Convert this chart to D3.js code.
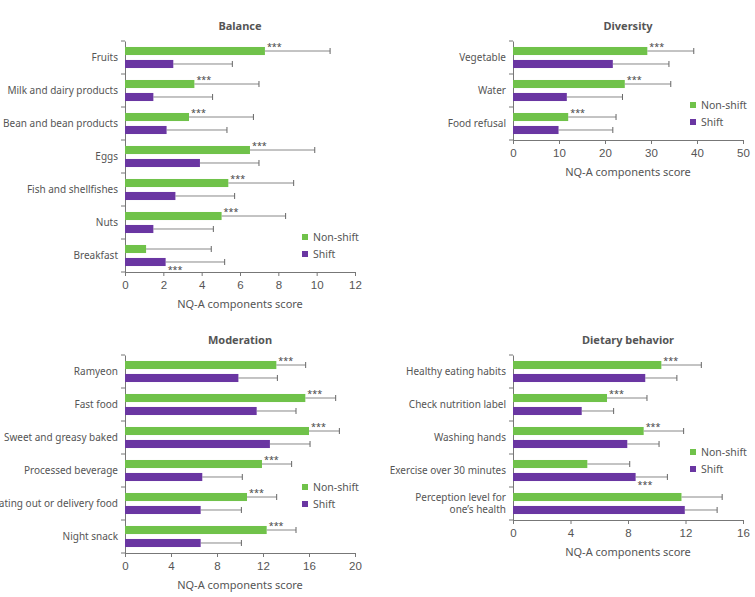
<!DOCTYPE html>
<html>
<head>
<meta charset="utf-8">
<script src="https://cdn.jsdelivr.net/npm/d3@7"></script>
<style>
  body { margin: 0; background: #fff; }
  text { font-family: "Noto Sans", "Open Sans", sans-serif; fill: #555; }
  .tick text { font-family: "Liberation Sans", Arial, sans-serif; font-size: 11.5px; fill: #555; }
  .domain, .tick line { stroke: #777; }
</style>
</head>
<body>
<div id="chart"></div>
<script>
// --- Data ---
const seriesNames = ["Non-shift", "Shift"];

const balanceCats = ["Fruits", "Milk and dairy products", "Bean and bean products", "Eggs", "Fish and shellfishes", "Nuts", "Breakfast"];
const balanceNonShift = [7.30, 3.62, 3.34, 6.52, 5.39, 5.04, 1.10];
const balanceNonShiftErr = [10.70, 6.99, 6.70, 9.90, 8.80, 8.38, 4.50];
const balanceShift = [2.52, 1.48, 2.17, 3.91, 2.63, 1.48, 2.12];
const balanceShiftErr = [5.60, 4.57, 5.32, 6.99, 5.72, 4.61, 5.20];
const balanceSig = ["Non-shift", "Non-shift", "Non-shift", "Non-shift", "Non-shift", "Non-shift", "Shift"];

const diversityCats = ["Vegetable", "Water", "Food refusal"];
const diversityNonShift = [29.2, 24.3, 12.0];
const diversityNonShiftErr = [39.3, 34.3, 22.4];
const diversityShift = [21.7, 11.7, 9.9];
const diversityShiftErr = [33.9, 23.8, 21.7];
const diversitySig = ["Non-shift", "Non-shift", "Non-shift"];

const moderationCats = ["Ramyeon", "Fast food", "Sweet and greasy baked", "Processed beverage", "Eating out or delivery food", "Night snack"];
const moderationNonShift = [13.16, 15.68, 16.0, 11.91, 10.61, 12.32];
const moderationNonShiftErr = [15.71, 18.32, 18.64, 14.49, 13.19, 14.87];
const moderationShift = [9.86, 11.45, 12.6, 6.72, 6.58, 6.58];
const moderationShiftErr = [13.25, 14.87, 16.09, 10.2, 10.12, 10.12];
const moderationSig = ["Non-shift", "Non-shift", "Non-shift", "Non-shift", "Non-shift", "Non-shift"];

const behaviorCats = ["Healthy eating habits", "Check nutrition label", "Washing hands", "Exercise over 30 minutes", "Perception level for\none\u2019s health"];
const behaviorNonShift = [10.32, 6.54, 9.09, 5.17, 11.72];
const behaviorNonShiftErr = [13.1, 9.32, 11.87, 8.12, 14.55];
const behaviorShift = [9.2, 4.78, 7.95, 8.53, 11.95];
const behaviorShiftErr = [11.4, 7.0, 10.16, 10.74, 14.2];
const behaviorSig = ["Non-shift", "Non-shift", "Non-shift", "Shift", null];

const balanceTicks = [0, 2, 4, 6, 8, 10, 12];
const diversityTicks = [0, 10, 20, 30, 40, 50];
const moderationTicks = [0, 4, 8, 12, 16, 20];
const behaviorTicks = [0, 4, 8, 12, 16];

const colors = { "Non-shift": "#70c24a", "Shift": "#6a36a2" };
const groupH = 33;

function rows(cats, ns, nsErr, sh, shErr, sig) {
  return cats.map((c, i) => ({
    cat: c,
    sig: sig[i],
    bars: [
      { key: "Non-shift", value: ns[i], err: nsErr[i] },
      { key: "Shift", value: sh[i], err: shErr[i] }
    ]
  }));
}

const panels = [
  { title: "Balance", data: rows(balanceCats, balanceNonShift, balanceNonShiftErr, balanceShift, balanceShiftErr, balanceSig),
    ticks: balanceTicks, x0: 125, y0: 41, legY: 237, showLabel: true },
  { title: "Diversity", data: rows(diversityCats, diversityNonShift, diversityNonShiftErr, diversityShift, diversityShiftErr, diversitySig),
    ticks: diversityTicks, x0: 513, y0: 41, legY: 105, showLabel: true },
  { title: "Moderation", data: rows(moderationCats, moderationNonShift, moderationNonShiftErr, moderationShift, moderationShiftErr, moderationSig),
    ticks: moderationTicks, x0: 125, y0: 355, legY: 487, showLabel: true },
  { title: "Dietary behavior", data: rows(behaviorCats, behaviorNonShift, behaviorNonShiftErr, behaviorShift, behaviorShiftErr, behaviorSig),
    ticks: behaviorTicks, x0: 513, y0: 355, legY: 452, showLabel: true }
];

const svg = d3.select("#chart").append("svg")
  .attr("width", 755)
  .attr("height", 597);

const innerW = 230;

panels.forEach(p => {
  const innerH = groupH * p.data.length;
  const g = svg.append("g").attr("transform", `translate(${p.x0},${p.y0})`);

  const x = d3.scaleLinear()
    .domain([0, d3.max(p.ticks)])
    .range([0, innerW]);

  const y = d3.scaleBand()
    .domain(p.data.map(d => d.cat))
    .range([0, innerH]);

  const ySub = d3.scaleBand()
    .domain(seriesNames)
    .range([0, groupH])
    .paddingInner(0.38)
    .paddingOuter(0.46);

  // title
  g.append("text")
    .attr("x", innerW / 2)
    .attr("y", -11)
    .attr("text-anchor", "middle")
    .style("font-size", "11px")
    .style("font-weight", "bold")
    .text(p.title);

  // axes
  g.append("g")
    .attr("transform", `translate(0,${innerH})`)
    .call(d3.axisBottom(x).tickValues(p.ticks).tickSize(4).tickSizeOuter(4).tickPadding(5));

  const yAxis = g.append("g")
    .call(d3.axisLeft(y).tickSize(0).tickSizeOuter(0).tickFormat(""));
  // ticks between groups
  yAxis.selectAll(".sep")
    .data(d3.range(p.data.length + 1))
    .enter()
    .append("line")
    .attr("class", "sep")
    .attr("x1", -4).attr("x2", 0)
    .attr("y1", i => i * groupH).attr("y2", i => i * groupH)
    .attr("stroke", "#777");

  // category labels
  const labels = g.selectAll(".cat")
    .data(p.data)
    .enter()
    .append("text")
    .attr("class", "cat")
    .attr("text-anchor", "end")
    .style("font-size", "10px")
    .attr("transform", d => `translate(-7,${y(d.cat) + groupH / 2})`);
  labels.each(function(d) {
    const lines = d.cat.split("\n");
    const t = d3.select(this);
    lines.forEach((ln, i) => {
      t.append("tspan")
        .attr("x", 0)
        .attr("y", (i - (lines.length - 1) / 2) * 12.5 + 3.5)
        .text(ln);
    });
  });

  // groups
  const groups = g.selectAll(".grp")
    .data(p.data)
    .enter()
    .append("g")
    .attr("class", "grp")
    .attr("transform", d => `translate(0,${y(d.cat)})`);

  const bar = groups.selectAll(".bar")
    .data(d => d.bars.map(b => Object.assign({ sig: d.sig }, b)))
    .enter()
    .append("g");

  // error bars
  bar.append("line")
    .attr("x1", d => x(d.value))
    .attr("x2", d => x(d.err))
    .attr("y1", d => ySub(d.key) + ySub.bandwidth() / 2)
    .attr("y2", d => ySub(d.key) + ySub.bandwidth() / 2)
    .attr("stroke", "#888")
    .attr("stroke-width", 1);

  bar.append("line")
    .attr("x1", d => x(d.err))
    .attr("x2", d => x(d.err))
    .attr("y1", d => ySub(d.key) + ySub.bandwidth() / 2 - 3)
    .attr("y2", d => ySub(d.key) + ySub.bandwidth() / 2 + 3)
    .attr("stroke", "#666")
    .attr("stroke-width", 1);

  bar.append("rect")
    .attr("x", 0)
    .attr("y", d => ySub(d.key))
    .attr("width", d => x(d.value))
    .attr("height", ySub.bandwidth())
    .attr("fill", d => colors[d.key]);

  // significance stars
  bar.filter(d => d.sig === d.key)
    .append("text")
    .attr("x", d => x(d.value) + 2)
    .attr("y", d => d.key === "Non-shift" ? ySub(d.key) + 3.5 : ySub(d.key) + ySub.bandwidth() + 6.5)
    .style("font-size", "9px")
    .style("fill", "#444")
    .text("***");

  // legend
  const leg = g.selectAll(".leg")
    .data(seriesNames)
    .enter()
    .append("g")
    .attr("transform", (d, i) => `translate(${177 - 0},${p.legY - p.y0 + i * 17})`);

  leg.append("rect")
    .attr("x", 0).attr("y", -3)
    .attr("width", 6).attr("height", 6)
    .attr("fill", d => colors[d]);

  leg.append("text")
    .attr("x", 11)
    .attr("y", 3.8)
    .style("font-size", "10.5px")
    .text(d => d);

  // x label
  g.append("text")
    .attr("x", innerW / 2)
    .attr("y", innerH + 36)
    .attr("text-anchor", "middle")
    .style("font-size", "11px")
    .text("NQ-A components score");
});
</script>
</body>
</html>
